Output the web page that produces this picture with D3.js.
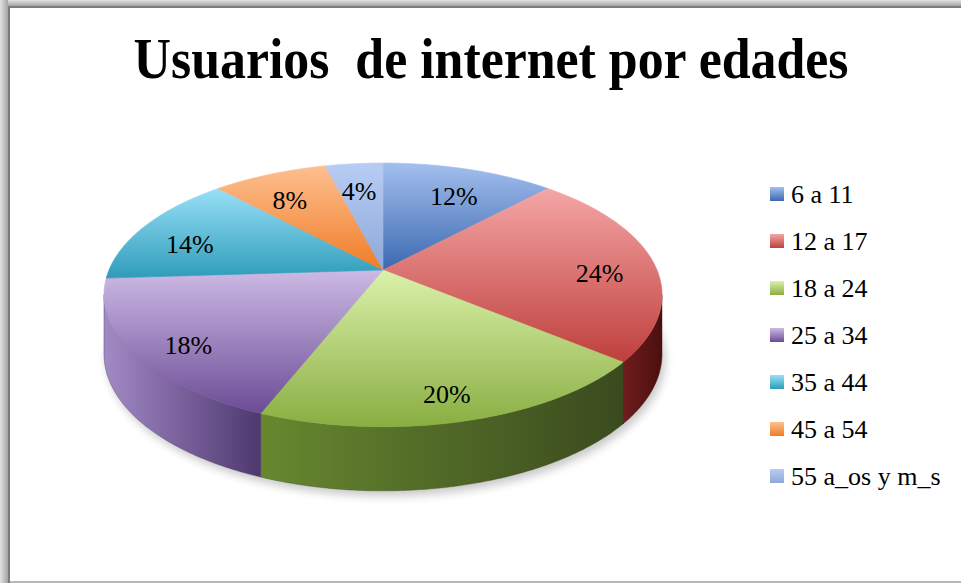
<!DOCTYPE html>
<html>
<head>
<meta charset="utf-8">
<script src="https://cdn.jsdelivr.net/npm/d3@7"></script>
<style>
    body { margin: 0; background: #fff; }
    svg { display: block; }
</style>
</head>
<body>
<svg id="chart" width="961" height="583"></svg>
<script>
// chart data
const title = 'Usuarios  de internet por edades';
const categories = ['6 a 11', '12 a 17', '18 a 24', '25 a 34', '35 a 44', '45 a 54', '55 a_os y m_s'];
const values = [12, 24, 20, 18, 14, 8, 4];
// top face gradient [light, dark] and side wall gradient [light, dark]
const topColors = [
    ['#a3bfee', '#3b69b0'],
    ['#f4a6a6', '#bf3f3c'],
    ['#dbf1aa', '#8aae42'],
    ['#ccbae4', '#6c4c96'],
    ['#98e0f7', '#2f9cba'],
    ['#fdbf90', '#f07c28'],
    ['#b8cdf4', '#8ea8d8']
];
const sideColors = [
    ['#4a72b0', '#2c4c80'],
    ['#701d1d', '#4a0f0f'],
    ['#67882f', '#3a4a1e'],
    ['#a28ac4', '#4e3870'],
    ['#3a9ab4', '#206a80'],
    ['#e07a30', '#a0501a'],
    ['#8ea8d8', '#5a74a8']
];

const svg = d3.select('#chart');
const defs = svg.append('defs');

// frame with shadow band on left/top
let bandH = defs.append('linearGradient').attr('id', 'bandLeft')
    .attr('x1', 0).attr('x2', 1).attr('y1', 0).attr('y2', 0);
bandH.append('stop').attr('offset', 0).attr('stop-color', '#e2e2e2');
bandH.append('stop').attr('offset', 1).attr('stop-color', '#a4a4a4');
let bandV = defs.append('linearGradient').attr('id', 'bandTop')
    .attr('x1', 0).attr('x2', 0).attr('y1', 0).attr('y2', 1);
bandV.append('stop').attr('offset', 0).attr('stop-color', '#e2e2e2');
bandV.append('stop').attr('offset', 1).attr('stop-color', '#a4a4a4');

svg.append('rect').attr('x', 0).attr('y', 0).attr('width', 961).attr('height', 6).attr('fill', 'url(#bandTop)');
svg.append('rect').attr('x', 0).attr('y', 0).attr('width', 8).attr('height', 583).attr('fill', 'url(#bandLeft)');
svg.append('rect').attr('x', 8).attr('y', 6).attr('width', 953).attr('height', 2).attr('fill', '#7c7c7c');
svg.append('rect').attr('x', 8).attr('y', 6).attr('width', 2).attr('height', 577).attr('fill', '#7c7c7c');
svg.append('rect').attr('x', 10).attr('y', 581).attr('width', 951).attr('height', 2).attr('fill', '#b8b8b8');

// title
svg.append('text')
    .attr('x', 491).attr('y', 78)
    .attr('text-anchor', 'middle')
    .attr('textLength', 715)
    .attr('lengthAdjust', 'spacingAndGlyphs')
    .style('white-space', 'pre')
    .style('font-family', '"Liberation Serif", "DejaVu Serif", serif')
    .style('font-weight', 'bold')
    .style('font-size', '58px')
    .attr('fill', '#000')
    .text(title);

// 3D pie projection (perspective tilted disk)
const pieGeo = {cx: 383, cy: 270, w: 274, h: 127.2, persp: 0.189, depth: 58, depthPersp: 0.094};
function project(r, theta, down) {
    let u = r * Math.sin(theta), v = r * Math.cos(theta);
    let z = 1 + pieGeo.persp * v;
    return [pieGeo.cx + pieGeo.w * u / z,
            pieGeo.cy - pieGeo.h * v / z + down * pieGeo.depth / (1 + pieGeo.depthPersp * v)];
}
function rim(a0, a1, down) {
    let n = Math.max(2, Math.ceil((a1 - a0) / 0.01));
    return d3.range(n + 1).map(i => project(1, a0 + (a1 - a0) * i / n, down));
}
const line = d3.line().curve(d3.curveLinear);

const arcs = d3.pie().sort(null).value(d => d)(values);
const total = d3.sum(values);
const pct = d3.format('.0%');

// gradients per slice
arcs.forEach((a, i) => {
    let g = defs.append('linearGradient').attr('id', 'top' + i)
        .attr('x1', 0).attr('x2', 0).attr('y1', 0).attr('y2', 1);
    g.append('stop').attr('offset', 0).attr('stop-color', topColors[i][0]);
    g.append('stop').attr('offset', 1).attr('stop-color', topColors[i][1]);
    let s = defs.append('linearGradient').attr('id', 'side' + i)
        .attr('x1', 0).attr('x2', 1).attr('y1', 0).attr('y2', 0);
    s.append('stop').attr('offset', 0).attr('stop-color', sideColors[i][0]);
    s.append('stop').attr('offset', 1).attr('stop-color', sideColors[i][1]);
});

// soft shadow under the pie
let blur = defs.append('filter').attr('id', 'shadowBlur')
    .attr('x', '-20%').attr('y', '-20%').attr('width', '140%').attr('height', '140%');
blur.append('feGaussianBlur').attr('stdDeviation', 5);
svg.append('path')
    .attr('d', line(rim(0, 2 * Math.PI, 1)) + 'Z')
    .attr('transform', 'translate(3,5)')
    .attr('fill', '#000')
    .attr('opacity', 0.22)
    .attr('filter', 'url(#shadowBlur)');

const pieLayer = svg.append('g').classed('pieLayer', true);

// side walls, only the front part is visible
const visFrom = Math.acos(-pieGeo.persp), visTo = 2 * Math.PI - visFrom;
arcs.forEach((a, i) => {
    let s0 = Math.max(a.startAngle, visFrom), s1 = Math.min(a.endAngle, visTo);
    if (s1 <= s0) return;
    let pts = rim(s0, s1, 0).concat(rim(s0, s1, 1).reverse());
    pieLayer.append('path')
        .attr('d', line(pts) + 'Z')
        .attr('fill', 'url(#side' + i + ')')
        .attr('stroke', sideColors[i][1])
        .attr('stroke-width', 0.4);
});

// top faces
arcs.forEach((a, i) => {
    let pts = [project(0, 0, 0)].concat(rim(a.startAngle, a.endAngle, 0));
    pieLayer.append('path')
        .attr('d', line(pts) + 'Z')
        .attr('fill', 'url(#top' + i + ')')
        .attr('stroke', 'url(#top' + i + ')')
        .attr('stroke-width', 0.6);
});

// data labels
arcs.forEach((a, i) => {
    let mid = (a.startAngle + a.endAngle) / 2;
    let p = project(0.8, mid, 0);
    pieLayer.append('text')
        .attr('x', p[0]).attr('y', p[1] + 18)
        .attr('text-anchor', 'middle')
        .style('font-family', '"Liberation Serif", serif')
        .style('font-size', '26px')
        .attr('fill', '#000')
        .text(pct(a.value / total));
});

// legend
const legendY = d3.scalePoint().domain(categories).range([194, 476]);
const legend = svg.append('g').classed('legend', true);
categories.forEach((c, i) => {
    let y = legendY(c);
    legend.append('rect')
        .attr('x', 770).attr('y', y - 7)
        .attr('width', 14).attr('height', 14)
        .attr('fill', 'url(#top' + i + ')');
    legend.append('text')
        .attr('x', 791).attr('y', y + 9)
        .style('font-family', '"Liberation Serif", serif')
        .style('font-size', '26px')
        .attr('fill', '#000')
        .text(c);
});
</script>
</body>
</html>
